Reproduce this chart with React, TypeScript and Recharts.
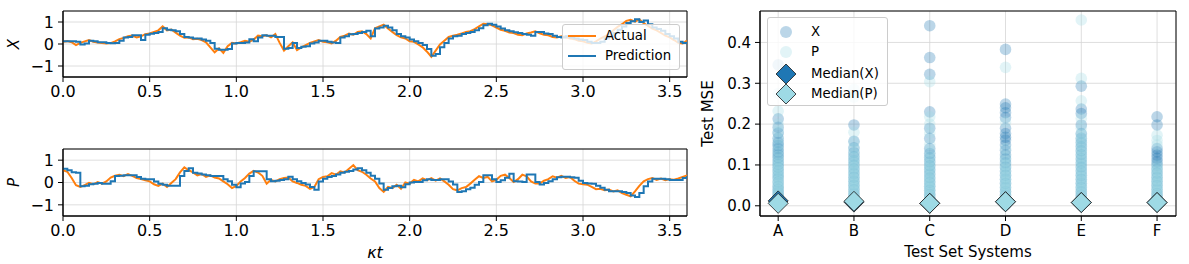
import React from "react";
import {
  LineChart,
  Line,
  XAxis,
  YAxis,
  CartesianGrid,
  ReferenceArea,
  ScatterChart,
  Scatter,
} from "recharts";

// sampling step of the trajectories (kappa * t)
const T_STEP = 0.025;

const X_ACTUAL = [
  0.10, 0.13, 0.08, -0.05, 0.05, 0.12, 0.18, 0.10, 0.07, 0.05,
  0.02, 0.04, 0.12, 0.22, 0.28, 0.35, 0.38, 0.30, 0.35, 0.45,
  0.48, 0.55, 0.62, 0.80, 0.62, 0.66, 0.52, 0.38, 0.28, 0.30,
  0.22, 0.24, 0.18, 0.08, -0.15, -0.38, -0.20, -0.40, -0.10, 0.05,
  0.02, 0.08, 0.15, 0.10, 0.20, 0.38, 0.35, 0.40, 0.30, 0.45,
  0.05, -0.30, -0.10, 0.08, -0.28, -0.15, -0.05, 0.05, 0.12, 0.18,
  0.10, 0.08, 0.03, 0.15, 0.32, 0.38, 0.47, 0.42, 0.55, 0.58,
  0.45, 0.25, 0.72, 0.80, 0.88, 0.70, 0.55, 0.40, 0.30, 0.25,
  0.12, 0.10, -0.02, -0.15, -0.35, -0.58, -0.30, -0.02, 0.15, 0.32,
  0.38, 0.42, 0.48, 0.55, 0.58, 0.68, 0.80, 0.92, 0.90, 0.85,
  0.75, 0.65, 0.60, 0.52, 0.50, 0.42, 0.40, 0.48, 0.52, 0.58,
  0.48, 0.42, 0.40, 0.32, 0.30, 0.35, 0.32, 0.25, 0.22, 0.15,
  0.12, 0.05, 0.02, 0.12, 0.25, 0.35, 0.45, 0.62, 0.78, 0.90,
  1.05, 1.10, 1.02, 1.12, 0.95, 0.82, 0.70, 0.62, 0.50, 0.38,
  0.30, 0.18, 0.05, 0.02, 0.15,
];

const X_PRED = [
  0.12, 0.12, 0.12, 0.10, -0.02, 0.02, 0.15, 0.12, 0.08, 0.08,
  0.05, 0.03, 0.05, 0.15, 0.30, 0.32, 0.40, 0.40, 0.18, 0.42,
  0.47, 0.50, 0.55, 0.72, 0.65, 0.62, 0.58, 0.45, 0.32, 0.30,
  0.25, 0.25, 0.20, 0.15, 0.05, -0.22, -0.26, -0.26, -0.23, 0.02,
  0.05, 0.05, 0.07, 0.22, 0.12, 0.30, 0.40, 0.38, 0.38, 0.32,
  0.32, -0.22, -0.18, 0.05, -0.18, -0.12, -0.10, 0.02, 0.07, 0.15,
  0.15, 0.10, 0.07, 0.05, 0.30, 0.35, 0.44, 0.46, 0.50, 0.55,
  0.60, 0.35, 0.70, 0.75, 0.83, 0.75, 0.62, 0.45, 0.35, 0.30,
  0.20, 0.12, 0.05, -0.05, -0.23, -0.53, -0.45, -0.15, 0.05, 0.25,
  0.35, 0.38, 0.45, 0.50, 0.55, 0.62, 0.72, 0.85, 0.92, 0.88,
  0.80, 0.70, 0.62, 0.58, 0.53, 0.50, 0.45, 0.42, 0.38, 0.55,
  0.55, 0.48, 0.45, 0.38, 0.32, 0.30, 0.35, 0.30, 0.25, 0.20,
  0.18, 0.10, 0.05, 0.05, 0.10, 0.25, 0.35, 0.50, 0.65, 0.80,
  0.95, 1.03, 1.13, 1.00, 1.07, 0.90, 0.75, 0.68, 0.60, 0.45,
  0.35, 0.25, 0.10, 0.05, 0.10,
];

const P_ACTUAL = [
  0.55, 0.48, 0.20, -0.12, -0.20, -0.12, -0.02, -0.08, 0.02, -0.05,
  0.05, 0.22, 0.30, 0.35, 0.28, 0.38, 0.30, 0.20, 0.15, 0.10,
  0.05, -0.08, -0.15, -0.05, -0.20, -0.02, 0.15, 0.45, 0.68, 0.55,
  0.45, 0.32, 0.38, 0.25, 0.32, 0.22, 0.18, 0.05, -0.08, -0.25,
  -0.15, 0.05, 0.20, 0.40, 0.52, 0.45, 0.30, -0.05, 0.12, 0.05,
  0.15, 0.20, 0.22, 0.05, -0.02, -0.10, -0.15, -0.28, -0.20, 0.15,
  0.25, 0.28, 0.42, 0.35, 0.50, 0.45, 0.62, 0.78, 0.55, 0.48,
  0.35, 0.18, 0.05, -0.25, -0.42, -0.20, -0.25, -0.10, -0.28, 0.00,
  -0.05, 0.12, 0.05, 0.18, 0.10, 0.20, 0.08, 0.18, 0.05, -0.10,
  -0.30, -0.35, -0.25, -0.20, -0.05, 0.12, 0.28, 0.20, 0.25, 0.05,
  0.12, 0.30, 0.35, 0.20, 0.02, 0.15, 0.35, 0.28, 0.05, -0.05,
  -0.05, 0.08, 0.15, 0.28, 0.22, 0.30, 0.20, 0.25, 0.08, -0.05,
  -0.08, -0.10, -0.20, -0.30, -0.28, -0.35, -0.32, -0.40, -0.35, -0.48,
  -0.55, -0.62, -0.40, -0.15, 0.05, 0.15, 0.20, 0.12, 0.18, 0.10,
  0.15, 0.12, 0.18, 0.25, 0.32,
];

const P_PRED = [
  0.62, 0.55, 0.46, 0.44, -0.17, -0.15, -0.08, -0.06, -0.02, -0.06,
  -0.06, 0.06, 0.29, 0.30, 0.32, 0.32, 0.32, 0.25, 0.17, 0.15,
  0.14, 0.05, -0.06, -0.10, -0.14, -0.14, -0.14, 0.29, 0.52, 0.64,
  0.44, 0.40, 0.36, 0.32, 0.29, 0.29, 0.29, 0.15, 0.06, -0.10,
  -0.21, -0.05, 0.02, 0.29, 0.50, 0.50, 0.50, 0.14, 0.06, 0.08,
  0.11, 0.15, 0.26, 0.15, 0.06, -0.02, -0.09, -0.20, -0.32, 0.05,
  0.17, 0.25, 0.29, 0.36, 0.44, 0.48, 0.52, 0.58, 0.64, 0.55,
  0.44, 0.30, 0.17, -0.05, -0.32, -0.25, -0.17, -0.15, -0.21, -0.08,
  0.00, 0.02, 0.02, 0.10, 0.14, 0.11, 0.11, 0.14, 0.14, 0.05,
  -0.09, -0.42, -0.39, -0.30, -0.24, -0.10, 0.02, 0.33, 0.33, 0.15,
  0.02, 0.10, 0.21, 0.39, 0.06, 0.04, 0.02, 0.36, 0.36, 0.02,
  -0.09, -0.02, 0.06, 0.15, 0.24, 0.26, 0.26, 0.24, 0.21, 0.08,
  -0.02, -0.04, -0.06, -0.15, -0.24, -0.32, -0.39, -0.39, -0.39, -0.42,
  -0.47, -0.58, -0.65, -0.47, -0.17, 0.05, 0.17, 0.17, 0.17, 0.14,
  0.11, 0.11, 0.11, 0.20, 0.29,
];

const TIME_TICKS = [0, 0.5, 1, 1.5, 2, 2.5, 3, 3.5];
const STATE_TICKS = [-1, 0, 1];

const SYSTEMS = ["A", "B", "C", "D", "E", "F"];
const MSE_TICKS = [0, 0.1, 0.2, 0.3, 0.4];

// per-trajectory test MSE of X, one list per system
const MSE_X = [
  [0.345, 0.213, 0.192, 0.178, 0.165, 0.155, 0.148, 0.14, 0.132, 0.125, 0.118, 0.11, 0.102, 0.094, 0.085, 0.076, 0.068, 0.058, 0.048, 0.04, 0.032, 0.025, 0.018, 0.012, 0.008, 0.005, 0.002],
  [0.198, 0.158, 0.142, 0.13, 0.12, 0.11, 0.1, 0.09, 0.08, 0.07, 0.06, 0.05, 0.04, 0.03, 0.022, 0.015, 0.01, 0.006, 0.003],
  [0.441, 0.363, 0.322, 0.23, 0.19, 0.165, 0.14, 0.128, 0.118, 0.108, 0.098, 0.088, 0.078, 0.068, 0.058, 0.048, 0.038, 0.028, 0.02, 0.013, 0.008, 0.004, 0.002],
  [0.383, 0.249, 0.24, 0.228, 0.216, 0.19, 0.177, 0.168, 0.161, 0.149, 0.136, 0.125, 0.115, 0.105, 0.095, 0.085, 0.075, 0.065, 0.055, 0.045, 0.035, 0.026, 0.018, 0.012, 0.007, 0.003],
  [0.293, 0.237, 0.226, 0.198, 0.177, 0.165, 0.155, 0.145, 0.135, 0.125, 0.115, 0.105, 0.095, 0.085, 0.075, 0.065, 0.055, 0.045, 0.035, 0.026, 0.018, 0.012, 0.007, 0.003],
  [0.218, 0.198, 0.14, 0.132, 0.124, 0.116, 0.108, 0.1, 0.09, 0.08, 0.07, 0.06, 0.05, 0.04, 0.03, 0.022, 0.015, 0.009, 0.004],
];

// per-trajectory test MSE of P, one list per system
const MSE_P = [
  [0.275, 0.232, 0.2, 0.182, 0.165, 0.15, 0.135, 0.122, 0.112, 0.104, 0.097, 0.09, 0.083, 0.076, 0.069, 0.062, 0.056, 0.05, 0.044, 0.038, 0.032, 0.027, 0.022, 0.017, 0.012, 0.008, 0.005, 0.002],
  [0.285, 0.266, 0.18, 0.155, 0.14, 0.128, 0.118, 0.11, 0.102, 0.095, 0.088, 0.081, 0.074, 0.067, 0.06, 0.054, 0.048, 0.042, 0.036, 0.03, 0.025, 0.02, 0.015, 0.011, 0.007, 0.004, 0.002],
  [0.304, 0.218, 0.2, 0.178, 0.15, 0.132, 0.12, 0.11, 0.102, 0.095, 0.088, 0.08, 0.073, 0.066, 0.06, 0.054, 0.048, 0.042, 0.036, 0.03, 0.025, 0.02, 0.015, 0.01, 0.006, 0.003, 0.001],
  [0.339, 0.205, 0.14, 0.12, 0.11, 0.1, 0.092, 0.085, 0.078, 0.071, 0.064, 0.058, 0.052, 0.046, 0.04, 0.034, 0.028, 0.023, 0.018, 0.013, 0.009, 0.005, 0.002],
  [0.455, 0.312, 0.257, 0.214, 0.19, 0.175, 0.165, 0.156, 0.147, 0.138, 0.13, 0.122, 0.114, 0.106, 0.098, 0.09, 0.083, 0.076, 0.069, 0.062, 0.055, 0.048, 0.042, 0.036, 0.03, 0.024, 0.018, 0.013, 0.008, 0.004, 0.001],
  [0.173, 0.16, 0.149, 0.1, 0.092, 0.085, 0.078, 0.071, 0.064, 0.058, 0.052, 0.046, 0.04, 0.034, 0.028, 0.022, 0.017, 0.012, 0.008, 0.004, 0.001],
];

const MEDIAN_X = [0.012, 0.009, 0.006, 0.01, 0.008, 0.008];
const MEDIAN_P = [0.006, 0.011, 0.006, 0.01, 0.008, 0.008];

const ORANGE = "#ff7f0e";
const BLUE = "#1f77b4";
const CYAN = "#9edae5";
const GRID = "#d6d6d6";
const FONT = "'DejaVu Sans', sans-serif";

const toTable = (actual: number[], pred: number[]) =>
  actual.map((v, i) => ({ t: +(i * T_STEP).toFixed(3), actual: v, pred: pred[i] }));

const xTable = toTable(X_ACTUAL, X_PRED);
const pTable = toTable(P_ACTUAL, P_PRED);

const fmtState = (v: number) => (v < 0 ? `\u2212${Math.abs(v)}` : `${v}`);

function TimePanel({ data, label, top, height, marginTop, xLabel }: any) {
  return (
    <div style={{ position: "absolute", left: 0, top }}>
      <LineChart width={700} height={height} data={data} margin={{ top: marginTop, right: 13, left: 0, bottom: 0 }}>
        <CartesianGrid stroke={GRID} strokeWidth={0.8} />
        <XAxis
          dataKey="t"
          type="number"
          domain={[0, 3.6]}
          allowDataOverflow
          ticks={TIME_TICKS}
          interval={0}
          tickFormatter={(v: number) => v.toFixed(1)}
          height={xLabel ? 48 : 23}
          tickSize={5}
          tickMargin={4}
          stroke="#000"
          tick={{ fill: "#000", fontSize: 16 }}
          label={xLabel ? { value: xLabel, position: "insideBottom", offset: 6, fill: "#000", fontSize: 16, fontStyle: "italic" } : undefined}
        />
        <YAxis
          type="number"
          domain={[-1.5, 1.5]}
          allowDataOverflow
          ticks={STATE_TICKS}
          interval={0}
          tickFormatter={fmtState}
          width={63}
          tickSize={5}
          tickMargin={4}
          stroke="#000"
          tick={{ fill: "#000", fontSize: 16 }}
          label={{ value: label, angle: -90, position: "insideLeft", offset: 14, fill: "#000", fontSize: 15, fontStyle: "italic", style: { textAnchor: "middle" } }}
        />
        <Line type="linear" dataKey="actual" stroke={ORANGE} strokeWidth={2} dot={false} isAnimationActive={false} />
        <Line type="stepAfter" dataKey="pred" stroke={BLUE} strokeWidth={2} dot={false} isAnimationActive={false} />
        <ReferenceArea x1={0} x2={3.6} y1={-1.5} y2={1.5} fill="none" stroke="#000" strokeWidth={1} />
      </LineChart>
    </div>
  );
}

const circle = (fill: string, opacity: number) => (p: any) =>
  <circle cx={p.cx} cy={p.cy} r={5.8} fill={fill} fillOpacity={opacity} />;

const diamond = (fill: string) => (p: any) =>
  <polygon
    points={`${p.cx},${p.cy - 10} ${p.cx + 10},${p.cy} ${p.cx},${p.cy + 10} ${p.cx - 10},${p.cy}`}
    fill={fill}
    stroke="#1a1a1a"
    strokeWidth={0.8}
  />;

const flatten = (lists: number[][]) =>
  lists.flatMap((vals, i) => vals.map((v) => ({ x: i, y: v })));

const xPoints = flatten(MSE_X);
const pPoints = flatten(MSE_P);
const xMedians = MEDIAN_X.map((v, i) => ({ x: i, y: v }));
const pMedians = MEDIAN_P.map((v, i) => ({ x: i, y: v }));

function MsePanel() {
  return (
    <div style={{ position: "absolute", left: 700, top: 0 }}>
      <ScatterChart width={489} height={264} margin={{ top: 11, right: 13, left: 0, bottom: 0 }}>
        <CartesianGrid stroke={GRID} strokeWidth={0.8} />
        <XAxis
          dataKey="x"
          type="number"
          domain={[-0.24, 5.25]}
          allowDataOverflow
          ticks={[0, 1, 2, 3, 4, 5]}
          interval={0}
          tickFormatter={(v: number) => SYSTEMS[v]}
          height={48}
          tickSize={5}
          tickMargin={4}
          stroke="#000"
          tick={{ fill: "#000", fontSize: 15 }}
          label={{ value: "Test Set Systems", position: "insideBottom", offset: 7, fill: "#000", fontSize: 15 }}
        />
        <YAxis
          dataKey="y"
          type="number"
          domain={[-0.025, 0.477]}
          allowDataOverflow
          ticks={MSE_TICKS}
          interval={0}
          tickFormatter={(v: number) => v.toFixed(1)}
          width={60}
          tickSize={5}
          tickMargin={4}
          stroke="#000"
          tick={{ fill: "#000", fontSize: 15 }}
          label={{ value: "Test MSE", angle: -90, position: "insideLeft", offset: 8, fill: "#000", fontSize: 15, style: { textAnchor: "middle" } }}
        />
        <Scatter data={xPoints} shape={circle(BLUE, 0.3)} isAnimationActive={false} />
        <Scatter data={pPoints} shape={circle(CYAN, 0.3)} isAnimationActive={false} />
        <Scatter data={xMedians} shape={diamond(BLUE)} isAnimationActive={false} />
        <Scatter data={pMedians} shape={diamond(CYAN)} isAnimationActive={false} />
        <ReferenceArea x1={-0.24} x2={5.25} y1={-0.025} y2={0.477} fill="none" stroke="#000" strokeWidth={1} />
      </ScatterChart>
    </div>
  );
}

const legendBox: React.CSSProperties = {
  position: "absolute",
  background: "rgba(255,255,255,0.8)",
  border: "1px solid #cccccc",
  borderRadius: 3,
  boxSizing: "border-box",
  fontSize: 13.3,
  color: "#000",
};

function LineLegend() {
  const rows = [
    { name: "Actual", color: ORANGE, y: 11 },
    { name: "Prediction", color: BLUE, y: 31 },
  ];
  return (
    <div style={{ ...legendBox, left: 562, top: 24, width: 118, height: 46 }}>
      {rows.map((r) => (
        <React.Fragment key={r.name}>
          <div style={{ position: "absolute", left: 5, top: r.y - 1, width: 28, height: 2, background: r.color }} />
          <div style={{ position: "absolute", left: 42, top: r.y - 9, lineHeight: "18px" }}>{r.name}</div>
        </React.Fragment>
      ))}
    </div>
  );
}

function MseLegend() {
  const rows = [
    { name: "X", kind: "c", fill: BLUE, op: 0.3, y: 14 },
    { name: "P", kind: "c", fill: CYAN, op: 0.3, y: 34 },
    { name: "Median(X)", kind: "d", fill: BLUE, op: 1, y: 56 },
    { name: "Median(P)", kind: "d", fill: CYAN, op: 1, y: 76 },
  ];
  return (
    <div style={{ ...legendBox, left: 767, top: 17, width: 121, height: 89 }}>
      <svg width={36} height={89} style={{ position: "absolute", left: 0, top: 0 }}>
        {rows.map((r) =>
          r.kind === "c" ? (
            <circle key={r.name} cx={18} cy={r.y} r={6} fill={r.fill} fillOpacity={r.op} />
          ) : (
            <polygon
              key={r.name}
              points={`18,${r.y - 10} 28,${r.y} 18,${r.y + 10} 8,${r.y}`}
              fill={r.fill}
              stroke="#1a1a1a"
              strokeWidth={0.8}
            />
          )
        )}
      </svg>
      {rows.map((r) => (
        <div key={r.name} style={{ position: "absolute", left: 43, top: r.y - 9, lineHeight: "18px" }}>{r.name}</div>
      ))}
    </div>
  );
}

export default function App() {
  return (
    <div style={{ position: "absolute", left: 0, top: 0, width: 1189, height: 264, background: "#fff", fontFamily: FONT }}>
      <TimePanel data={xTable} label="X" top={0} height={100} marginTop={11} />
      <TimePanel data={pTable} label="P" top={130} height={134} marginTop={19} xLabel="κt" />
      <MsePanel />
      <LineLegend />
      <MseLegend />
    </div>
  );
}
